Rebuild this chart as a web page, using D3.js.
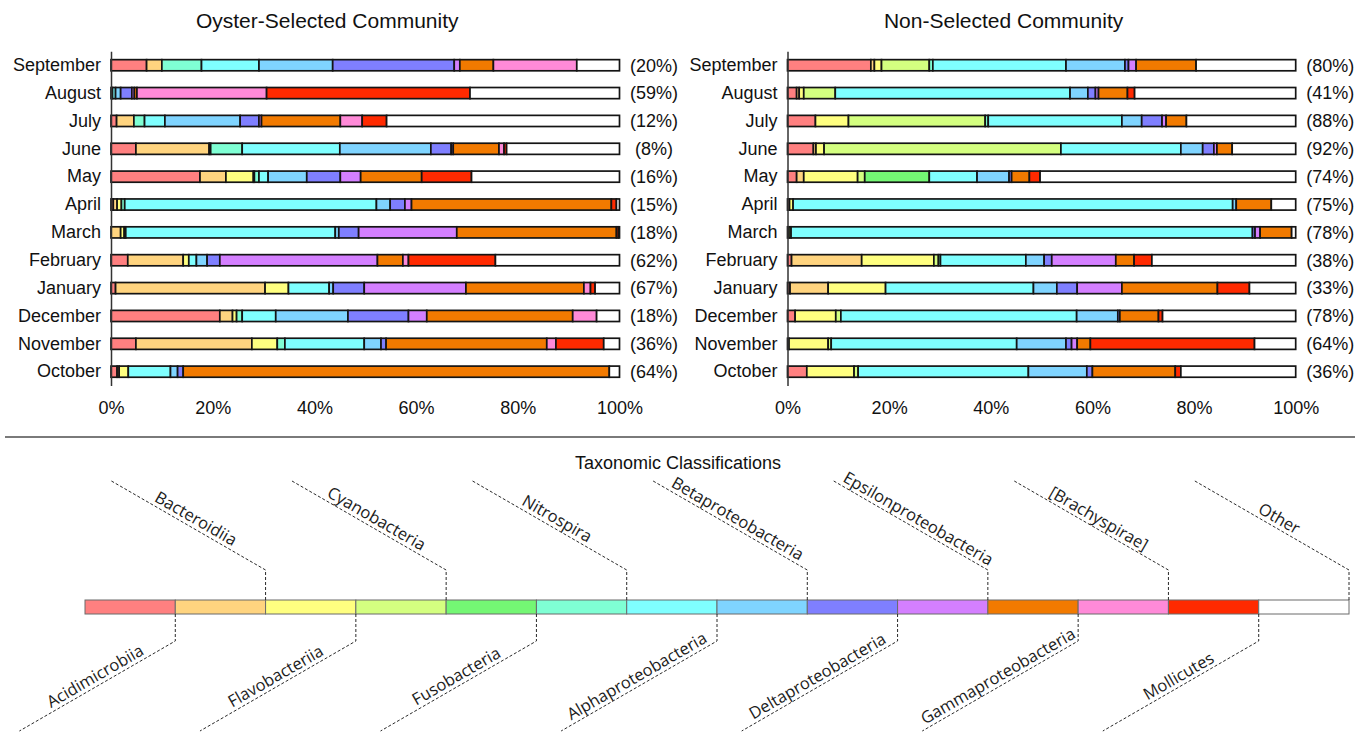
<!DOCTYPE html>
<html>
<head>
<meta charset="utf-8">
<script src="https://cdn.jsdelivr.net/npm/d3@7"></script>
<style>
  body { margin: 0; background: #fff; }
  svg { display: block; }
  .chart-text { font-family: "Liberation Sans", Arial, sans-serif; fill: #111; }
</style>
</head>
<body>
<svg id="chart" width="1368" height="732"></svg>
<script>
// Sampling months, top row first
const months = ["September", "August", "July", "June", "May", "April", "March",
                "February", "January", "December", "November", "October"];

// Taxonomic classes in stacking order
const classes = ["Acidimicrobiia", "Bacteroidiia", "Flavobacteriia", "Cyanobacteria",
                 "Fusobacteria", "Nitrospira", "Alphaproteobacteria", "Betaproteobacteria",
                 "Deltaproteobacteria", "Epsilonproteobacteria", "Gammaproteobacteria",
                 "[Brachyspirae]", "Mollicutes", "Other"];

const classColors = ["#ff8080", "#ffd47f", "#ffff80", "#d4ff80", "#74f774", "#7fffd4",
                     "#7fffff", "#7fd4ff", "#7f7fff", "#d47fff", "#f27a00",
                     "#ff8ad8", "#ff2a00", "#ffffff"];

// Relative abundance (%) per month, columns follow `classes`
const oysterSelected = [
  [7.0, 3.0, 0, 0, 0, 7.8, 11.3, 14.5, 23.9, 1.1, 6.6, 16.4, 0, 8.4],     // September
  [0, 0, 0, 0, 0, 0.3, 0.6, 1.0, 2.2, 0.5, 0.5, 25.5, 40.0, 29.4],        // August
  [1.1, 3.4, 0, 0, 0, 2.1, 4.0, 14.8, 3.7, 0.5, 15.5, 4.3, 4.8, 45.8],    // July
  [4.9, 14.4, 0.3, 0, 0, 6.2, 19.2, 17.9, 4.0, 0.4, 9.0, 1.0, 0.5, 22.2], // June
  [17.5, 5.1, 5.4, 0.2, 0, 0.9, 1.8, 7.6, 6.6, 4.0, 12.0, 0, 9.8, 29.1],  // May
  [0.45, 0.75, 0.85, 0, 0, 0.65, 49.5, 2.7, 2.9, 1.3, 39.3, 0, 1.0, 0.6], // April
  [0, 1.9, 0.7, 0, 0, 0.3, 41.2, 0.7, 3.9, 19.3, 31.4, 0, 0.4, 0.2],      // March
  [3.3, 10.9, 1.1, 0, 0, 0, 1.5, 2.1, 2.5, 31.0, 5.0, 1.1, 17.1, 24.4],   // February
  [0.9, 29.4, 4.6, 0, 0, 0, 8.0, 0.8, 6.1, 20.0, 23.2, 1.3, 0.9, 4.8],    // January
  [21.4, 2.5, 0.8, 0, 0, 1.1, 6.6, 14.2, 11.9, 3.6, 28.7, 4.7, 0, 4.5],   // December
  [4.9, 22.8, 5.0, 0, 0, 1.5, 15.6, 3.3, 1.0, 0, 31.6, 1.8, 9.4, 3.1],    // November
  [1.2, 0.4, 1.8, 0, 0, 0, 8.3, 1.4, 1.1, 0, 83.8, 0, 0, 2.0]             // October
];

const nonSelected = [
  [16.4, 0.7, 1.4, 9.4, 0, 0.7, 26.2, 11.6, 0.7, 1.5, 11.8, 0, 0, 19.6],  // September
  [1.8, 0.5, 0.9, 6.2, 0, 0, 46.2, 3.5, 1.5, 0.6, 5.7, 0, 1.4, 31.7],     // August
  [5.5, 0, 6.5, 26.9, 0, 0.6, 26.3, 3.9, 4.0, 0.8, 4.0, 0, 0, 21.5],      // July
  [5.1, 0.5, 1.6, 46.6, 0, 0, 23.6, 4.3, 2.2, 0.6, 3.0, 0, 0, 12.5],      // June
  [1.8, 1.4, 10.6, 1.4, 12.7, 0, 9.4, 6.3, 0.5, 0, 3.5, 0, 2.1, 50.3],    // May
  [0.4, 0, 0.7, 0, 0, 0, 86.5, 0.7, 0, 0, 6.9, 0, 0, 4.8],                // April
  [0.3, 0, 0, 0.4, 0, 0, 90.8, 0, 0.5, 1.0, 6.2, 0, 0, 0.8],              // March
  [0.8, 13.8, 14.2, 0.9, 0, 0.4, 16.8, 3.6, 1.5, 12.6, 3.6, 0, 3.5, 28.3],// February
  [0.5, 7.5, 11.3, 0, 0, 0, 29.1, 4.6, 4.0, 8.8, 18.8, 0, 6.3, 9.1],      // January
  [1.5, 0, 8.0, 1.0, 0, 0, 46.4, 8.1, 0.4, 0, 7.6, 0, 0.8, 26.2],         // December
  [0.3, 0, 7.7, 0.6, 0, 0, 36.5, 9.7, 1.1, 1.1, 2.6, 0, 32.3, 8.1],       // November
  [3.8, 0, 9.3, 0.8, 0, 0, 33.5, 11.5, 1.1, 0, 16.3, 0, 1.1, 22.6]        // October
];

// Bracketed percentages printed to the right of each bar
const oysterPct = ["(20%)", "(59%)", "(12%)", "(8%)", "(16%)", "(15%)", "(18%)",
                   "(62%)", "(67%)", "(18%)", "(36%)", "(64%)"];
const nonPct = ["(80%)", "(41%)", "(88%)", "(92%)", "(74%)", "(75%)", "(78%)",
                "(38%)", "(33%)", "(78%)", "(64%)", "(36%)"];

const percentTicks = [0, 20, 40, 60, 80, 100];

const svg = d3.select("#chart");
const color = d3.scaleOrdinal().domain(classes).range(classColors);

function drawPanel(title, values, pctLabels, x0, x1) {
  const g = svg.append("g");
  const x = d3.scaleLinear().domain([0, 100]).range([x0, x1]);
  const y = d3.scaleBand().domain(months).range([51.3, 385.6])
    .paddingInner(0.6).paddingOuter(0.3);

  const table = months.map((m, i) => {
    const row = { month: m };
    classes.forEach((c, j) => { row[c] = values[i][j]; });
    return row;
  });
  const series = d3.stack().keys(classes)(table);

  // Title
  g.append("text").attr("class", "chart-text")
    .attr("x", (x0 + x1) / 2 - 38).attr("y", 28)
    .attr("text-anchor", "middle").style("font-size", "21px")
    .text(title);

  // Stacked bars
  g.selectAll("g.layer").data(series).join("g")
    .attr("class", "layer")
    .attr("fill", d => color(d.key))
    .selectAll("rect")
    .data(d => d.filter(s => s[1] - s[0] > 0))
    .join("rect")
    .attr("x", d => x(d[0]))
    .attr("width", d => x(d[1]) - x(d[0]))
    .attr("y", d => y(d.data.month))
    .attr("height", y.bandwidth())
    .attr("stroke", "#141414")
    .attr("stroke-width", 1.7);

  // Month axis
  const yAxis = g.append("g").attr("transform", `translate(${x0},0)`)
    .call(d3.axisLeft(y).tickSize(0).tickPadding(10));
  yAxis.select(".domain").attr("stroke", "#333").attr("stroke-width", 1.5);
  yAxis.selectAll("text").attr("class", "chart-text").style("font-size", "18px");

  // Percent axis (labels only)
  const xAxis = g.append("g").attr("transform", "translate(0,401)")
    .call(d3.axisBottom(x).tickValues(percentTicks).tickFormat(d => d + "%")
      .tickSize(0).tickPadding(0));
  xAxis.select(".domain").remove();
  xAxis.selectAll("text").attr("class", "chart-text").style("font-size", "18px");

  // Bracketed labels
  g.selectAll("text.pct").data(months).join("text")
    .attr("class", "pct chart-text")
    .attr("x", x1 + 34.5)
    .attr("y", m => y(m) + y.bandwidth() / 2)
    .attr("dy", "0.35em")
    .attr("text-anchor", "middle")
    .style("font-size", "18px")
    .text((m, i) => pctLabels[i]);
}

drawPanel("Oyster-Selected Community", oysterSelected, oysterPct, 111, 619.5);
drawPanel("Non-Selected Community", nonSelected, nonPct, 787.5, 1295.7);

// Divider between the panels and the key
svg.append("line")
  .attr("x1", 5).attr("x2", 1355).attr("y1", 437).attr("y2", 437)
  .attr("stroke", "#7a7a7a").attr("stroke-width", 2);

// Key of taxonomic classes
const key = svg.append("g");
key.append("text").attr("class", "chart-text")
  .attr("x", 678).attr("y", 469).attr("text-anchor", "middle")
  .style("font-size", "18px").text("Taxonomic Classifications");

const kx = d3.scaleBand().domain(classes).range([85, 1349]).paddingInner(0);
const keyTop = 600, keyH = 14;

key.selectAll("rect").data(classes).join("rect")
  .attr("x", d => kx(d)).attr("width", kx.bandwidth())
  .attr("y", keyTop).attr("height", keyH)
  .attr("fill", d => color(d))
  .attr("stroke", "#6b6b6b").attr("stroke-width", 1);

const ang = Math.PI / 6, diag = 180;
const cosA = Math.cos(ang), sinA = Math.sin(ang);

classes.forEach((c, i) => {
  const cx = kx(c) + kx.bandwidth();
  const up = i % 2 === 1;
  const elbowY = up ? keyTop - 30 : keyTop + keyH + 27;
  const endX = cx - diag * cosA;
  const endY = up ? elbowY - diag * sinA : elbowY + diag * sinA;

  key.append("path")
    .attr("d", `M${cx},${up ? keyTop : keyTop + keyH}V${elbowY}L${endX},${endY}`)
    .attr("fill", "none").attr("stroke", "#2a2a2a")
    .attr("stroke-width", 1).attr("stroke-dasharray", "3,2");

  const d = up ? 86 : 87;
  const tx = cx - d * cosA;
  const ty = up ? elbowY - d * sinA : elbowY + d * sinA;
  key.append("text")
    .attr("transform", `translate(${tx},${ty}) rotate(${up ? 30 : -30})`)
    .attr("dy", -4)
    .attr("text-anchor", "middle")
    .style("font-family", "'Open Sans', 'Noto Sans', sans-serif")
    .style("font-size", "16.5px")
    .style("fill", "#1c1c1c")
    .text(c);
});
</script>
</body>
</html>
